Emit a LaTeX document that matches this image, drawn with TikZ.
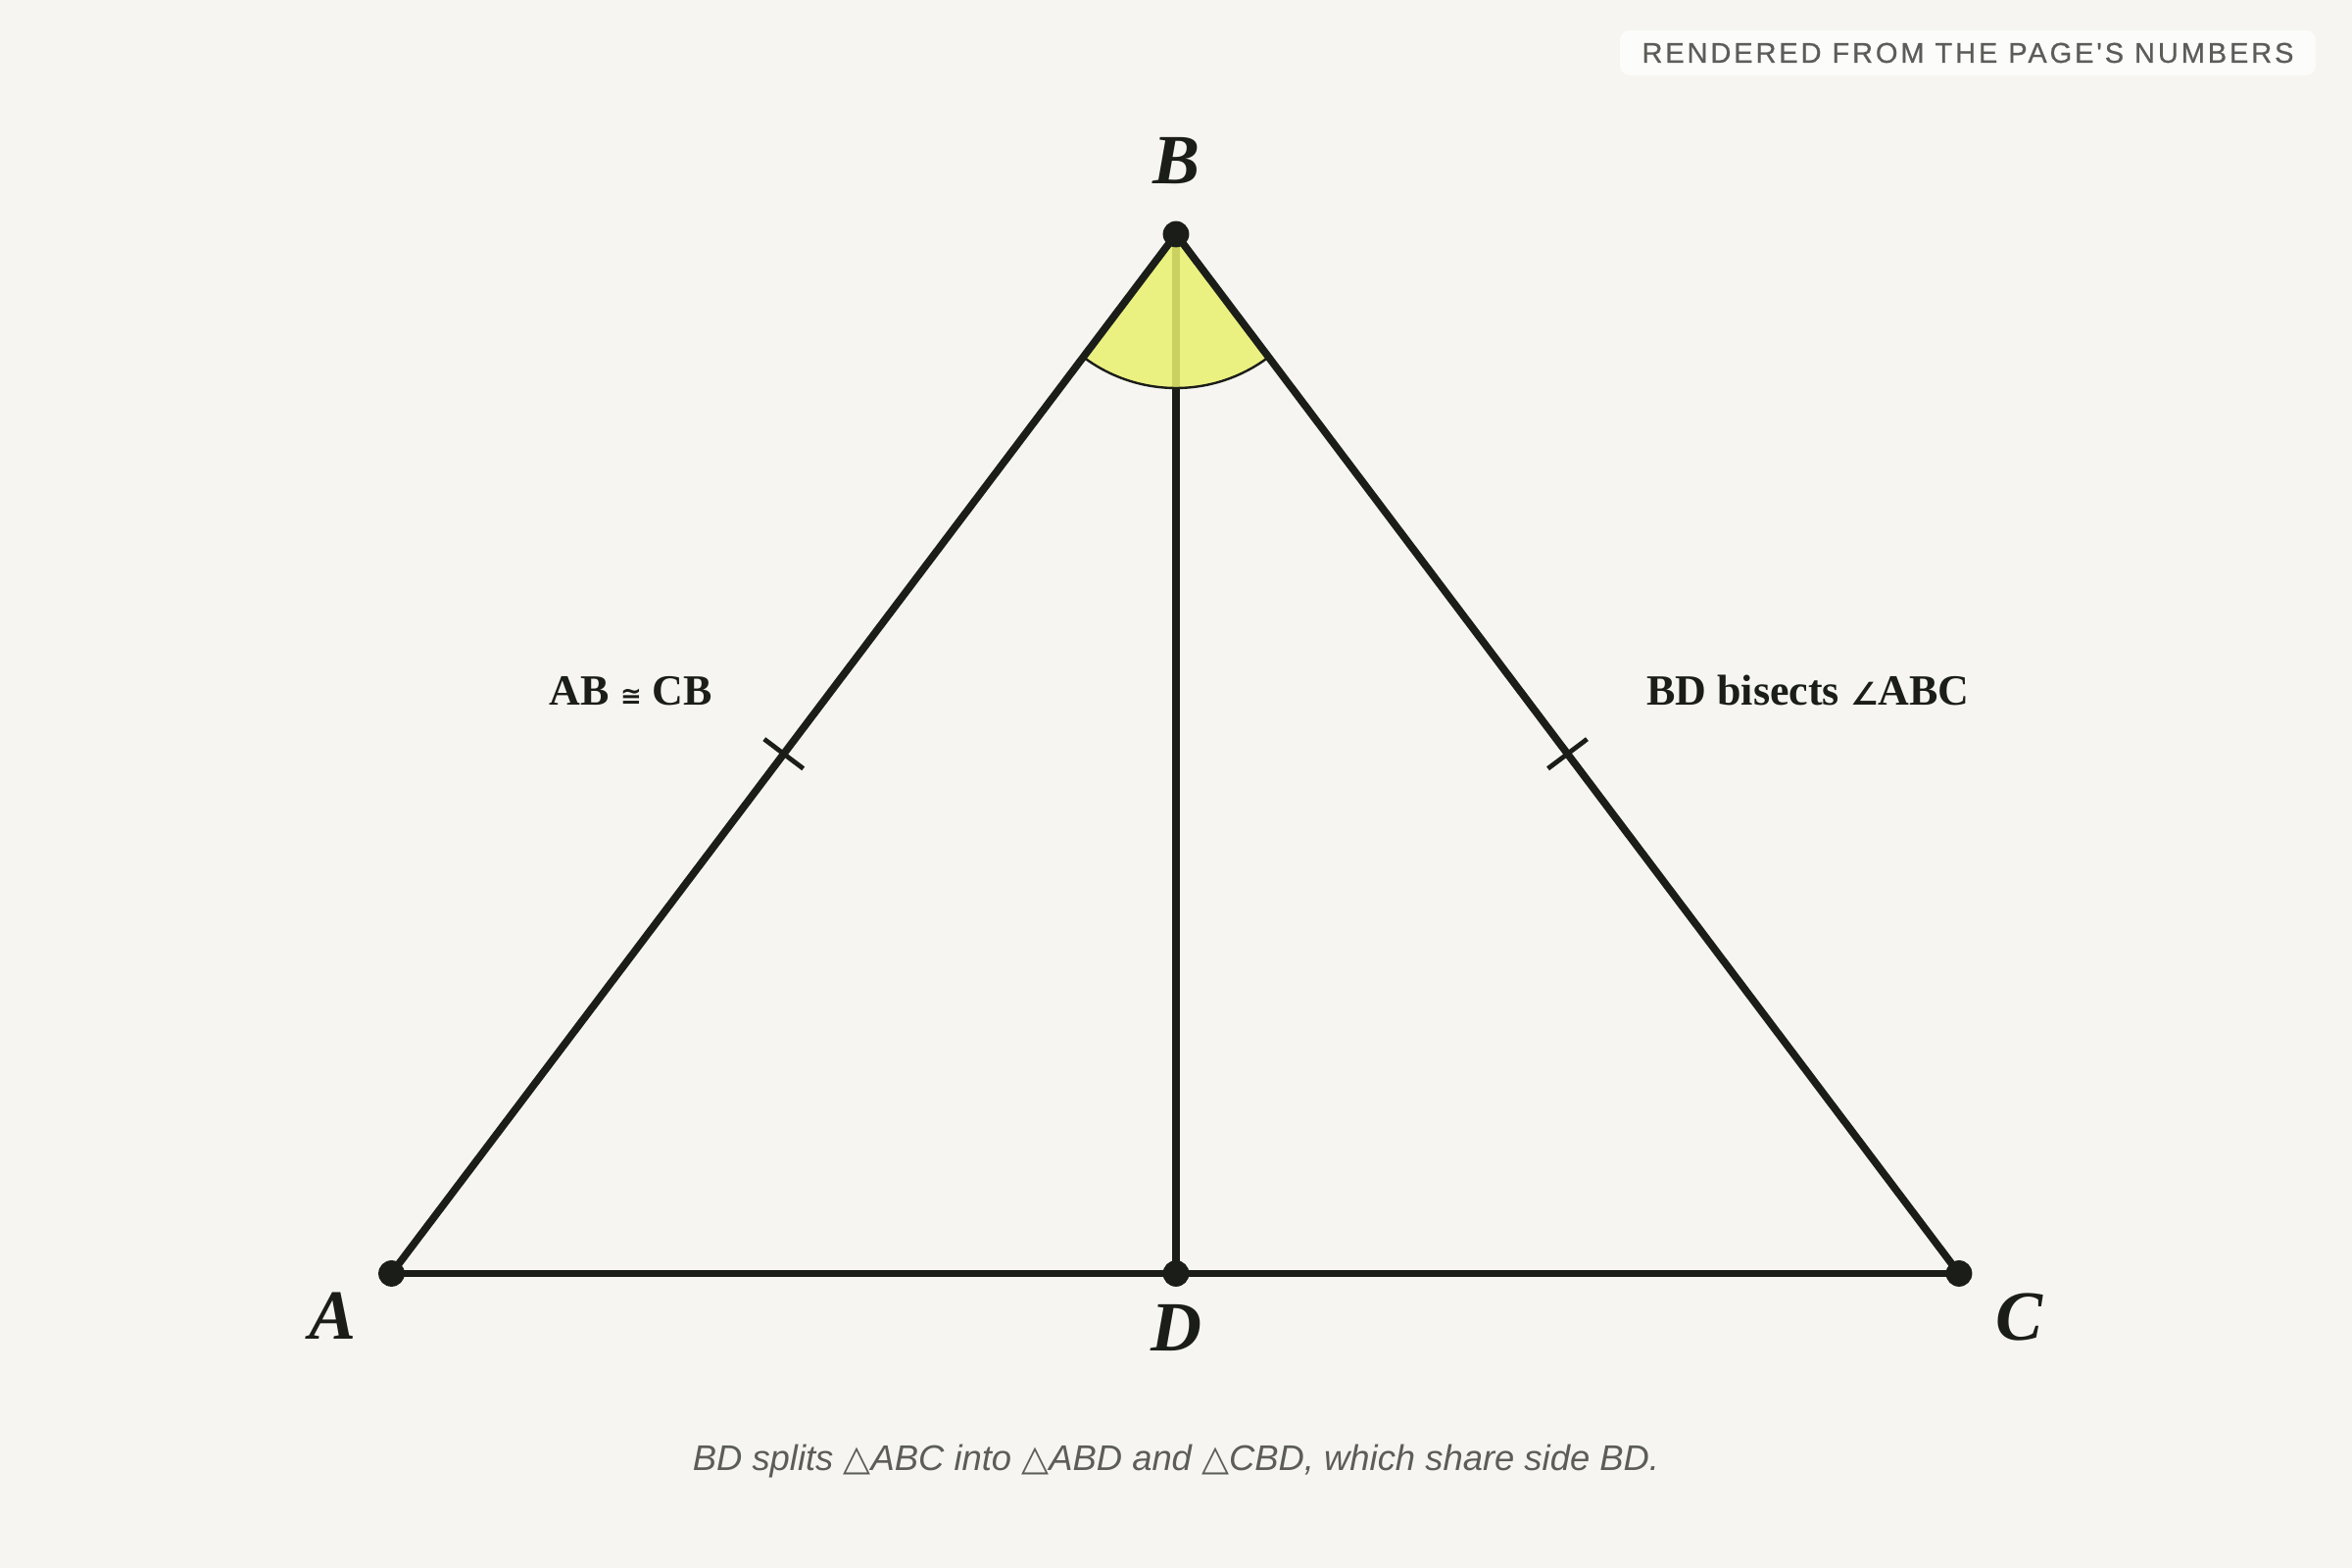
\documentclass[tikz,border=0pt]{standalone}
\usepackage{fontspec}
\setmainfont{Liberation Serif}
\newfontfamily\capfont{Liberation Sans}
\newfontfamily\tagfont[LetterSpace=10,FakeBold=0.6]{Liberation Sans}
\newfontfamily\symfont{DejaVu Sans}
\usetikzlibrary{calc}
\definecolor{paper}{HTML}{F6F5F1}
\definecolor{ink}{HTML}{1B1D19}
\definecolor{wedge}{HTML}{EAF16E}
\definecolor{capgray}{HTML}{5C5D58}
\definecolor{tagfill}{HTML}{FCFCFA}
\newcommand{\trisym}{{\symfont △}}
\newcommand{\congsym}{{\symfont\fontsize{13}{13}\selectfont ≅}}
\newcommand{\angsym}{{\symfont\fontsize{16}{16}\selectfont ∠}}

\begin{document}
\begin{tikzpicture}[x=0.5pt, y=0.5pt,
    side/.style={draw=ink, line width=3.8pt, line cap=round},
    tick/.style={draw=ink, line width=2.4pt},
    ptlabel/.style={text=ink, font=\fontsize{36}{36}\selectfont\bfseries\itshape},
    note/.style={text=ink, font=\fontsize{22}{22}\selectfont\bfseries}]
      \fill[paper] (0,0) rectangle (2400,1600);
      \useasboundingbox (0,0) rectangle (2400,1600);

      \coordinate (A) at (399.5,300.5);
      \coordinate (B) at (1200,1361);
      \coordinate (C) at (1999,300.5);
      \coordinate (D) at (1200,300.5);

      \draw[side] (B) -- (D);

      % angle ABC
      \fill[wedge, fill opacity=0.85] (B) -- ++(233:157) arc[start angle=233, end angle=307, radius=157] -- cycle;
      \draw[ink, line width=1.2pt] (B) ++(233:157) arc[start angle=233, end angle=307, radius=157];

      \draw[side] (A) -- (B);
      \draw[side] (B) -- (C);
      \draw[side] (A) -- (C);

      \draw[tick] ($(A)!0.5!(B)!12.5pt!90:(B)$) -- ($(A)!0.5!(B)!12.5pt!-90:(B)$);
      \draw[tick] ($(C)!0.5!(B)!12.5pt!90:(B)$) -- ($(C)!0.5!(B)!12.5pt!-90:(B)$);

      \foreach \p in {A,B,C,D}
        \fill[ink] (\p) circle (6.7pt);

      \draw (1200,1436) node[ptlabel] (LB) {B};
      \draw (340,257) node[ptlabel] (LA) {A};
      \draw (2060,256) node[ptlabel] (LC) {C};
      \draw (1200,245) node[ptlabel] (LD) {D};

      \draw (644,895) node[note] (eq) {AB \congsym{} CB};
      \draw (1845,896) node[note] (bis) {BD bisects \angsym{}ABC};

      \draw (1200,109) node[text=capgray, font=\capfont\itshape\fontsize{18.2}{18.2}\selectfont] (cap)
        {BD splits \trisym ABC into \trisym ABD and \trisym CBD, which share side BD.};

      \draw (2008,1546) node[fill=tagfill, rounded corners=5pt, minimum width=355pt, minimum height=23pt,
        text=capgray, font=\tagfont\fontsize{14.5}{14.5}\selectfont] (tag) {RENDERED FROM THE PAGE'S NUMBERS};
    \end{tikzpicture}
\end{document}
